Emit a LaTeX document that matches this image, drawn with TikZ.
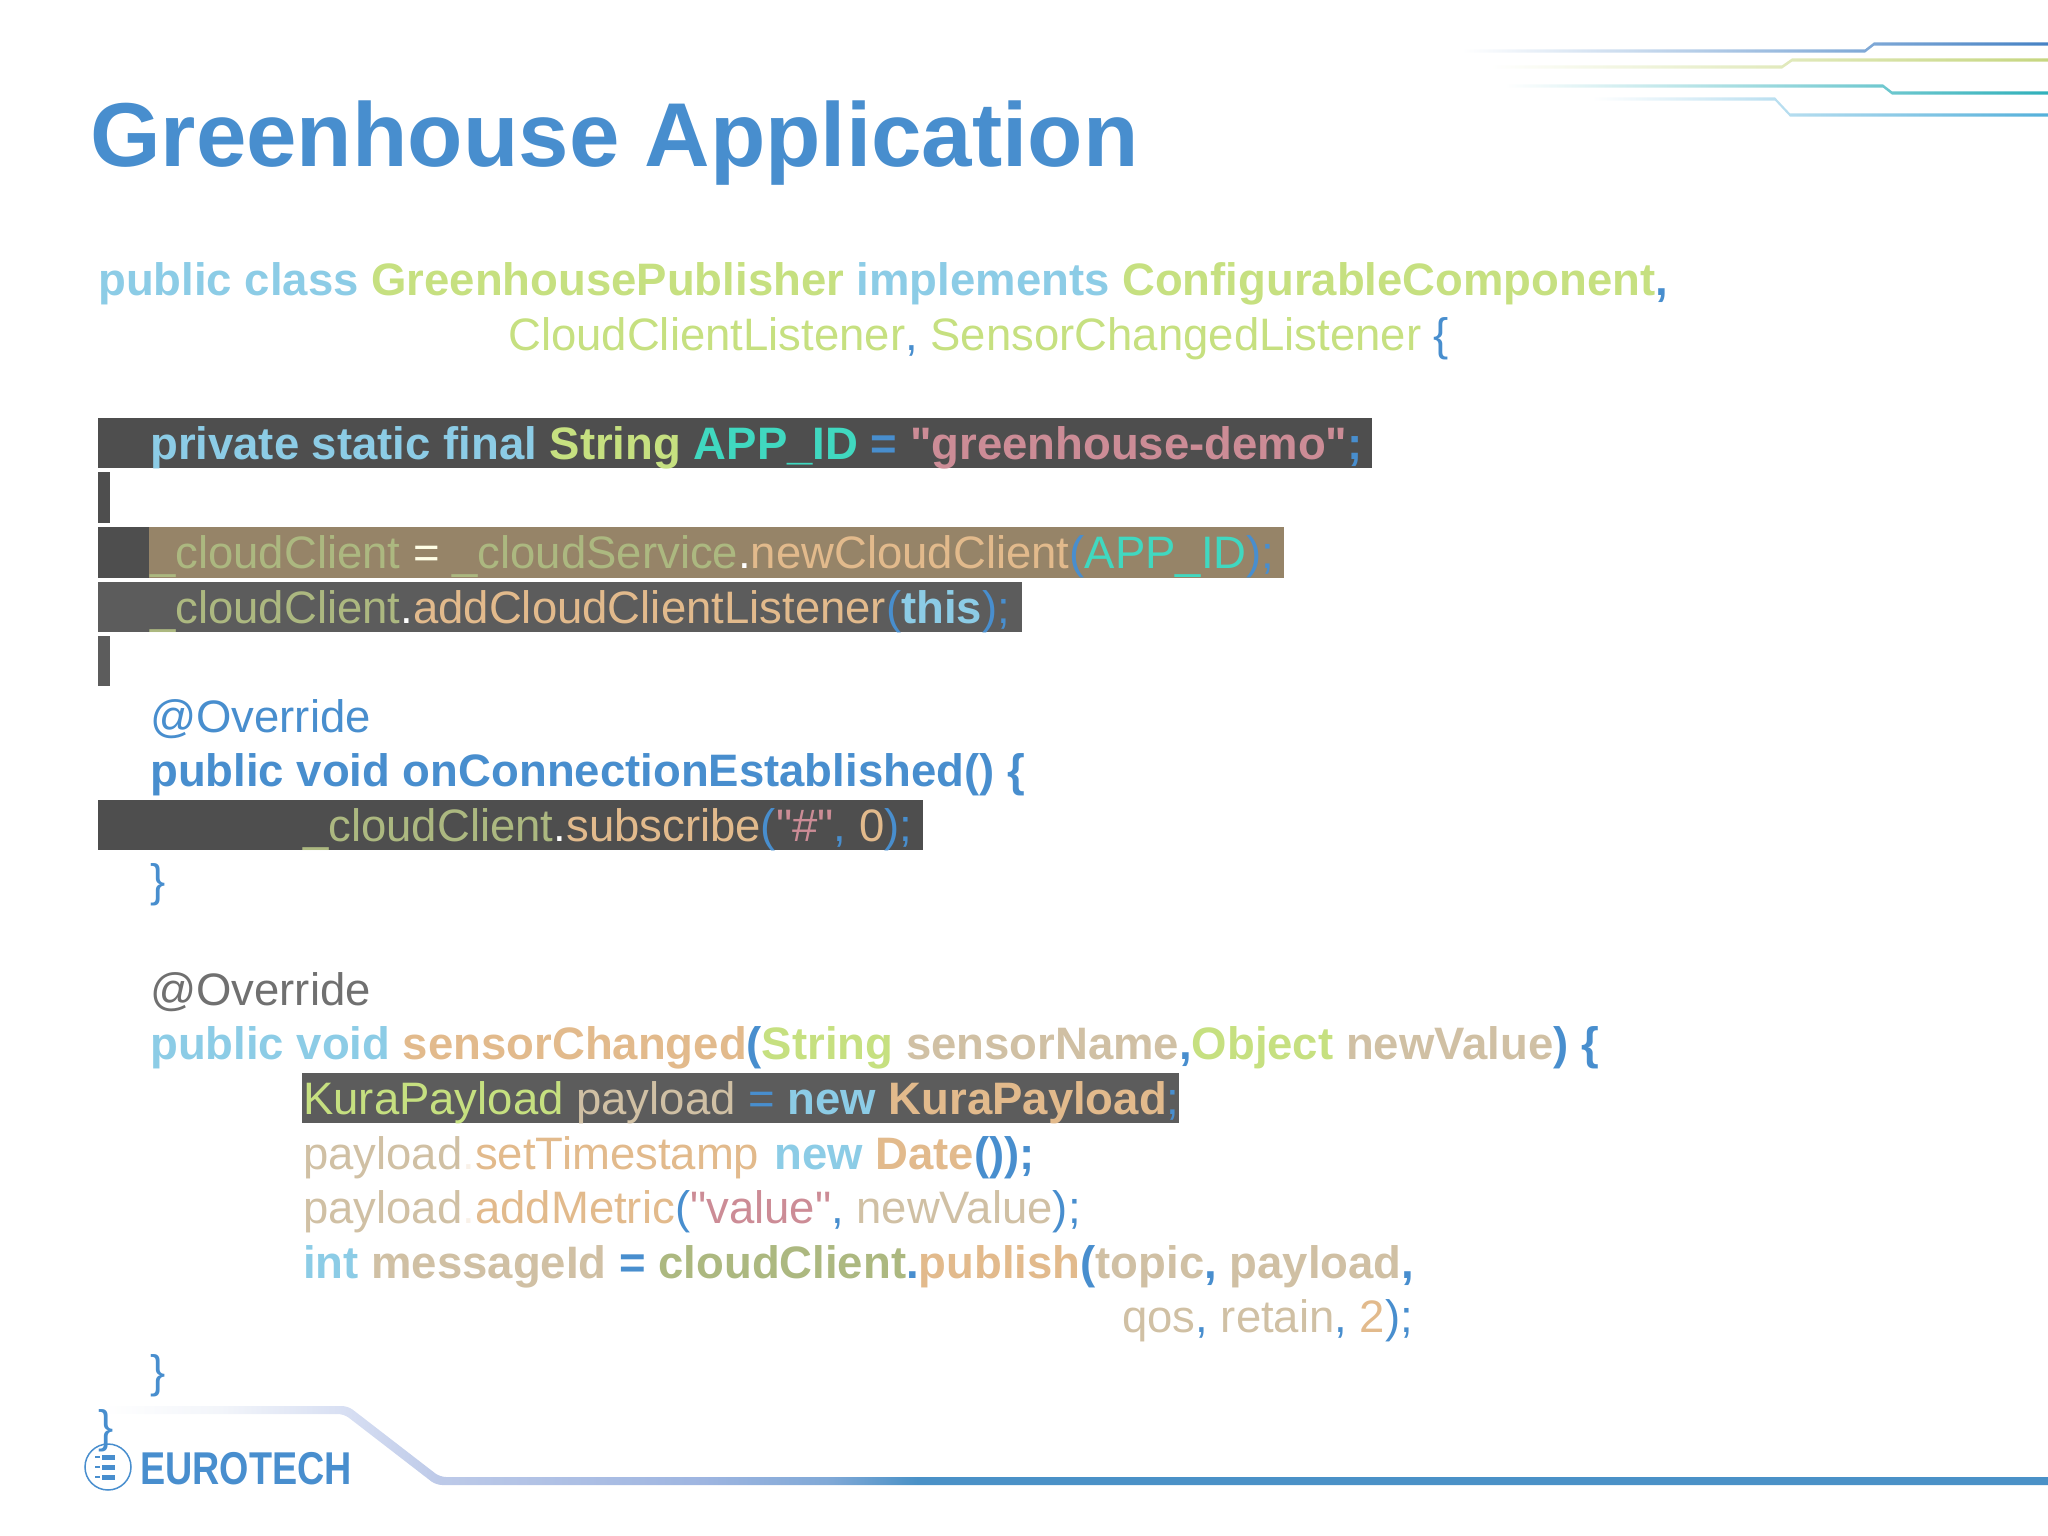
\documentclass[tikz,border=0pt]{standalone}
\usepackage{fontspec}
\setmainfont{Liberation Sans}[Ligatures=TeXOff]
\definecolor{code_blue}{RGB}{72,142,206}
\definecolor{key_blue}{RGB}{140,204,230}
\definecolor{type_green}{RGB}{198,224,128}
\definecolor{id_teal}{RGB}{64,216,192}
\definecolor{str_rose}{RGB}{204,140,150}
\definecolor{field_olive}{RGB}{172,184,128}
\definecolor{meth_tan}{RGB}{226,186,140}
\definecolor{var_sand}{RGB}{208,192,164}
\definecolor{note_gray}{RGB}{112,112,112}
\definecolor{bar_dark}{RGB}{78,78,78}
\definecolor{bar_mid}{RGB}{92,92,92}
\definecolor{bar_tan}{RGB}{150,132,104}
\definecolor{trace_a}{RGB}{168,178,222}
\definecolor{trace_b}{RGB}{70,130,196}
\definecolor{trace_c}{RGB}{232,236,190}
\definecolor{trace_d}{RGB}{198,214,128}
\definecolor{trace_e}{RGB}{170,218,222}
\definecolor{trace_f}{RGB}{48,176,186}
\definecolor{trace_g}{RGB}{200,220,240}
\definecolor{trace_h}{RGB}{84,176,218}
\pgfdeclarehorizontalshading{footfade}{100bp}{rgb(0bp)=(1,1,1); rgb(25bp)=(1,1,1); rgb(28bp)=(.95,.96,.98);
  rgb(31.3bp)=(.84,.87,.95); rgb(33.6bp)=(.74,.79,.91); rgb(40.3bp)=(.62,.71,.88); rgb(43.6bp)=(.50,.66,.84); rgb(45.8bp)=(.29,.57,.78); rgb(100bp)=(.29,.57,.78)}
% thin trace lines top right: y1, y2, x0, x1, x2, colours
\newcommand{\trace}[7]{\shade[left color=white,middle color=#6,right color=#7]
  (#3,#1-1.6) -- (#4,#1-1.6) -- (#5,#2-1.6) -- (2048,#2-1.6) -- (2048,#2+1.6) -- (#5,#2+1.6) -- (#4,#1+1.6) -- (#3,#1+1.6) -- cycle;}
\newcommand{\tk}[2]{{\color{#1}\relax #2}}
\newcommand{\bk}[2]{{\color{#1}\bfseries\relax #2}}

\begin{document}
\begin{tikzpicture}[x=1pt,y=-1pt]
    \tikzstyle{codeline}=[anchor=base west, inner sep=0pt, font=\fontsize{45.5}{46}\selectfont]
    \tikzstyle{title}=[anchor=base west, inner sep=0pt, font=\fontsize{90.7}{93}\selectfont\bfseries, text=code_blue]
    \tikzstyle{logo}=[anchor=base west, inner sep=0pt, font=\fontsize{46}{46}\selectfont\bfseries, text=code_blue, xscale=0.82]
    \useasboundingbox (0,0) rectangle (2048,1536);

    % top right traces
    \trace{51}{44}{1462}{1865}{1874}{trace_a}{trace_b}
    \trace{67}{60}{1490}{1782}{1792}{trace_c}{trace_d}
    \trace{86}{93}{1505}{1883}{1892}{trace_e}{trace_f}
    \trace{99}{115}{1592}{1775}{1790}{trace_g}{trace_h}

    \node[title] (head) at (90,167) {Greenhouse Application};

    % highlight bars
    \fill[bar_dark] (98,418) rectangle (1372,468);
    \fill[bar_dark] (98,472) rectangle (110,523);
    \fill[bar_dark] (98,527) rectangle (149,578);
    \fill[bar_tan]  (149,527) rectangle (1284,578);
    \fill[bar_mid]  (98,582) rectangle (1022,632);
    \fill[bar_mid]  (98,636) rectangle (110,686);
    \fill[bar_dark] (98,800) rectangle (923,850);
    \fill[bar_mid]  (302,1073) rectangle (1179,1123);

    \node[codeline] (l0)  at (98,295)   {\bk{key_blue}{public class }\bk{type_green}{GreenhousePublisher}\bk{key_blue}{ implements }\bk{type_green}{ConfigurableComponent}\bk{code_blue}{,}};
    \node[codeline] (l1)  at (508,350)  {\tk{type_green}{CloudClientListener}\tk{code_blue}{, }\tk{type_green}{SensorChangedListener}\tk{code_blue}{ \{}};
    \node[codeline] (l3)  at (150,459)  {\bk{key_blue}{private static final }\bk{type_green}{String }\bk{id_teal}{APP\_ID}\bk{code_blue}{ = }\bk{str_rose}{"greenhouse-demo"}\bk{code_blue}{;}};
    \node[codeline] (l5)  at (150,568)  {\tk{field_olive}{\_cloudClient}\tk{white!90!yellow}{ = }\tk{field_olive}{\_cloudService}\tk{white}{.}\tk{meth_tan}{newCloudClient}\tk{code_blue}{(}\tk{id_teal}{APP\_ID}\tk{code_blue}{);}};
    \node[codeline] (l6)  at (150,623)  {\tk{field_olive}{\_cloudClient}\tk{white}{.}\tk{meth_tan}{addCloudClientListener}\tk{code_blue}{(}\bk{key_blue}{this}\tk{code_blue}{);}};
    \node[codeline] (l8)  at (150,732)  {\tk{code_blue}{@Override}};
    \node[codeline] (l9)  at (150,786)  {\bk{code_blue}{public void onConnectionEstablished() \{}};
    \node[codeline] (l10) at (303,841)  {\tk{field_olive}{\_cloudClient}\tk{white}{.}\tk{meth_tan}{subscribe}\tk{code_blue}{(}\tk{str_rose}{"\#"}\tk{code_blue}{, }\tk{meth_tan}{0}\tk{code_blue}{);}};
    \node[codeline] (l11) at (150,896)  {\tk{code_blue}{\}}};
    \node[codeline] (l13) at (150,1005) {\tk{note_gray}{@Override}};
    \node[codeline] (l14) at (150,1059) {\bk{key_blue}{public void }\bk{meth_tan}{sensorChanged}\bk{code_blue}{(}\bk{type_green}{String }\bk{var_sand}{sensorName}\bk{code_blue}{,}\bk{type_green}{Object }\bk{var_sand}{newValue}\bk{code_blue}{) \{}};
    \node[codeline] (l15) at (303,1114) {\tk{type_green}{KuraPayload }\tk{var_sand}{payload }\tk{code_blue}{= }\bk{key_blue}{new }\bk{meth_tan}{KuraPayload}\tk{code_blue}{;}};
    \node[codeline] (l16) at (303,1169) {\tk{var_sand}{payload}\tk{white!80!meth_tan}{.}\tk{meth_tan}{setTimestamp}\tk{white}{(}\bk{key_blue}{new }\bk{meth_tan}{Date}\bk{code_blue}{());}};
    \node[codeline] (l17) at (303,1223) {\tk{var_sand}{payload}\tk{white!80!meth_tan}{.}\tk{meth_tan}{addMetric}\tk{code_blue}{(}\tk{str_rose}{"value"}\tk{code_blue}{, }\tk{var_sand}{newValue}\tk{code_blue}{);}};
    \node[codeline] (l18) at (303,1278) {\bk{key_blue}{int }\bk{var_sand}{messageId}\bk{code_blue}{ = }\bk{field_olive}{cloudClient}\bk{code_blue}{.}\bk{meth_tan}{publish}\bk{code_blue}{(}\bk{var_sand}{topic}\bk{code_blue}{, }\bk{var_sand}{payload}\bk{code_blue}{,}};
    \node[codeline] (l19) at (1122,1332) {\tk{var_sand}{qos}\tk{code_blue}{, }\tk{var_sand}{retain}\tk{code_blue}{, }\tk{meth_tan}{2}\tk{code_blue}{);}};
    \node[codeline] (l20) at (150,1387) {\tk{code_blue}{\}}};

    % footer band and logo
    \shade[shading=footfade,rounded corners=6pt] (103,1406) -- (348,1406) -- (440,1477) -- (2060,1477) -- (2060,1485) -- (436,1485) -- (344,1414) -- (103,1414) -- cycle;
    \node[codeline] (l21) at (98,1442) {\tk{code_blue}{\}}};
    \node[draw=code_blue, line width=1.5pt, circle, minimum size=46pt, inner sep=0pt] (mark) at (108,1467) {};
    \foreach \yy in {-10,0,10} {
      \fill[code_blue] (102,1467+\yy-2.5) rectangle (115,1467+\yy+2.5);
      \draw[code_blue, line width=1.4pt] (100,1467+\yy) -- (95,1467+\yy);
    }
    \node[logo] (brand) at (140,1484) {EUROTECH};
\end{tikzpicture}
\end{document}
